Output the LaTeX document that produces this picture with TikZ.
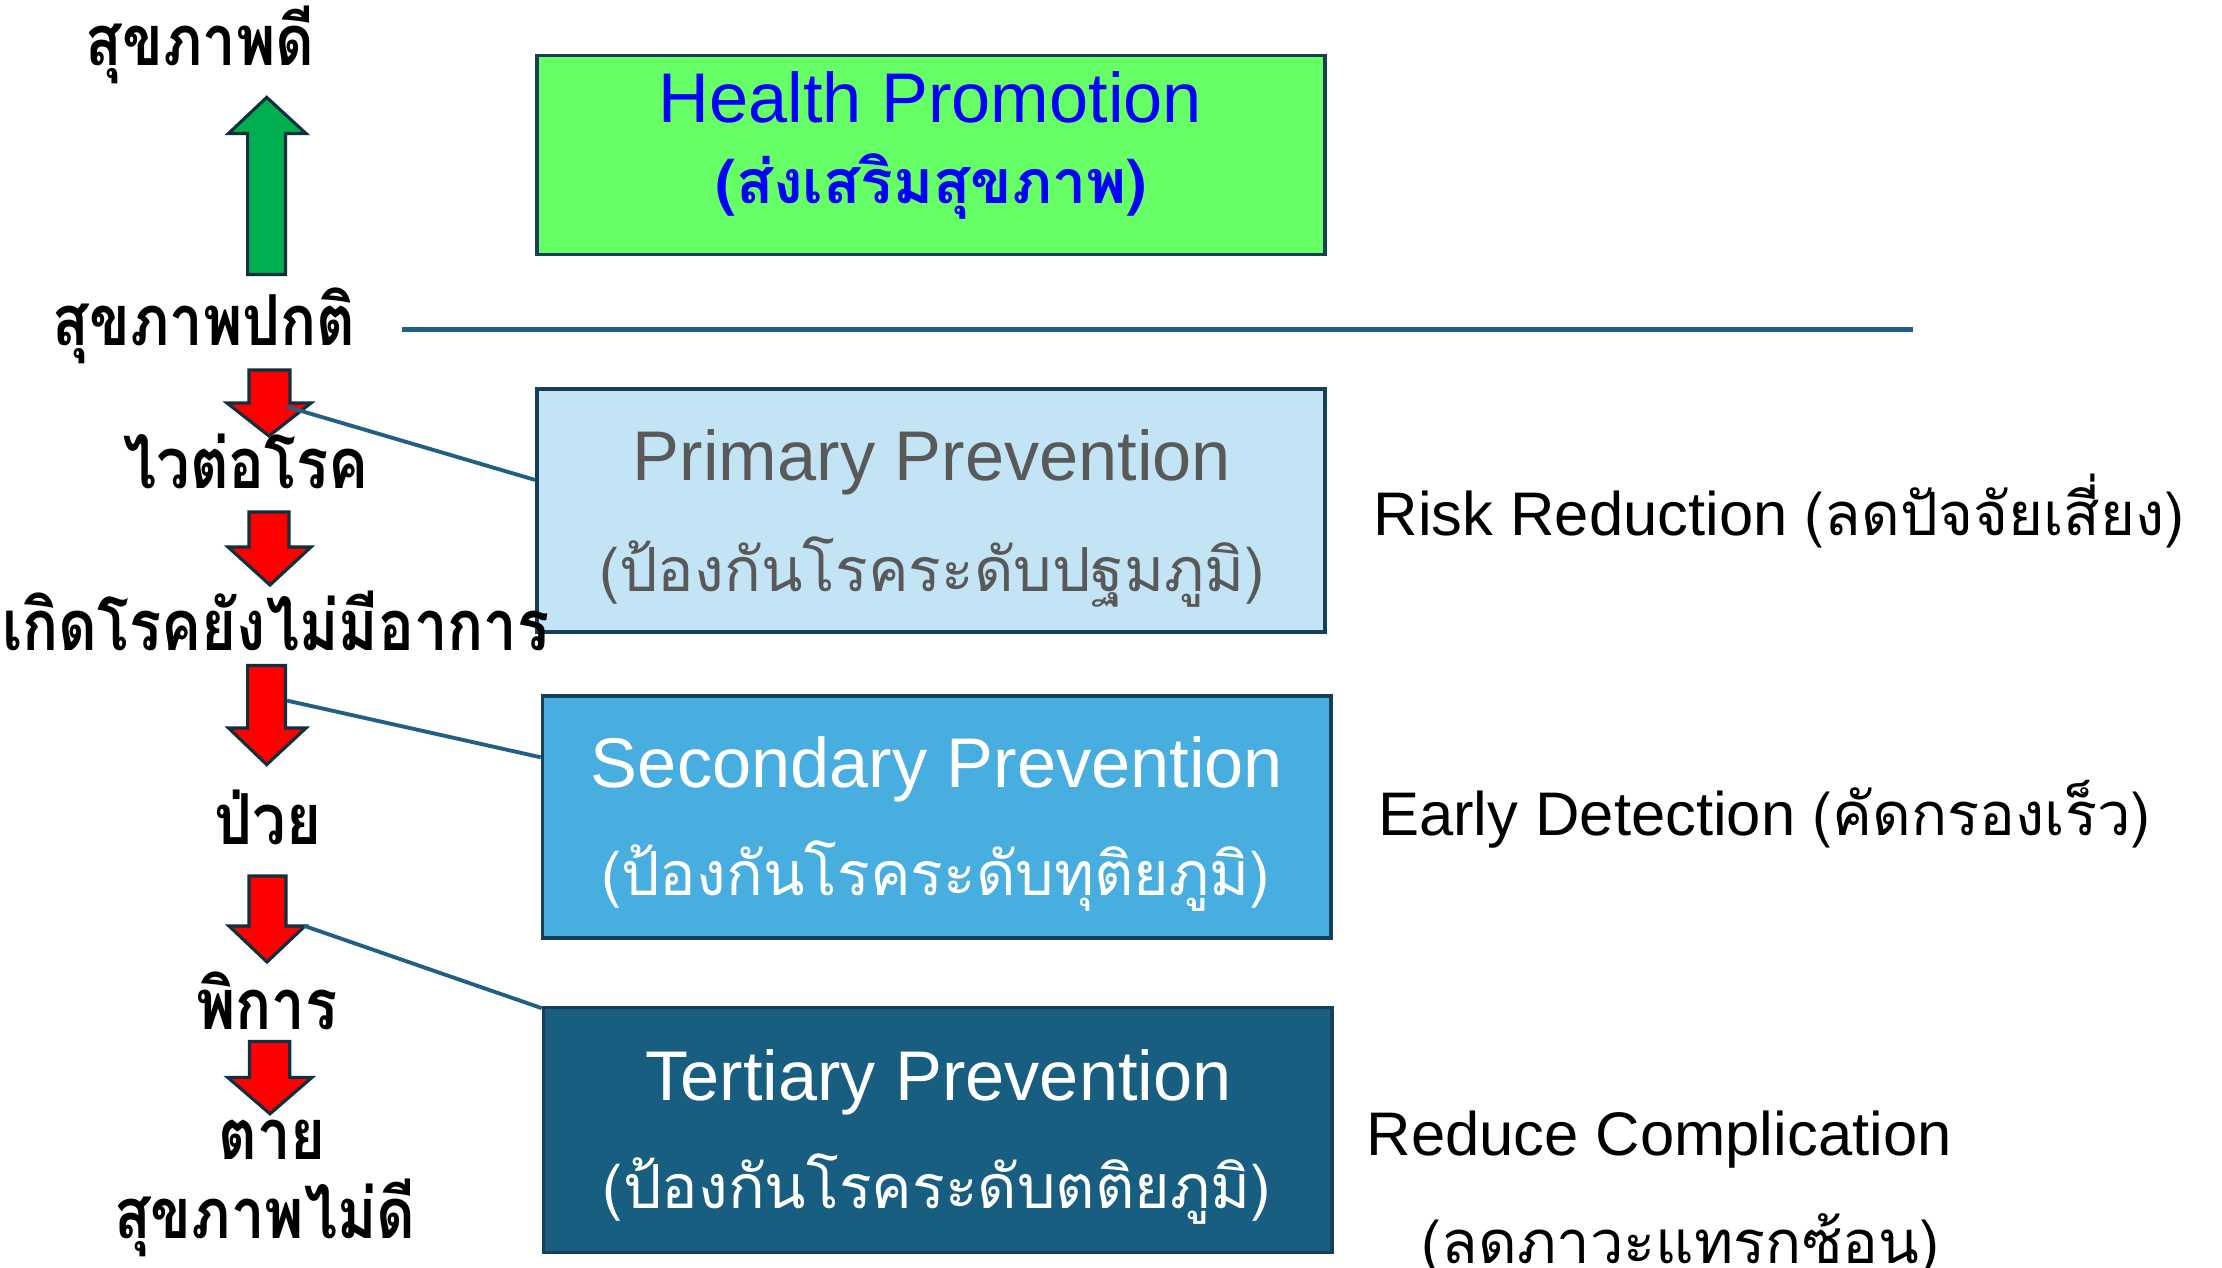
\documentclass[tikz,border=0pt]{standalone}
\usepackage{fontspec}
\setmainfont{Liberation Sans}
\newfontfamily\thaifont[Script=Thai]{Loma}
\newfontfamily\thainarrow[Script=Thai,FakeStretch=0.85]{Loma}
\newcommand\rthaifont{\thaifont\fontsize{17pt}{20pt}\selectfont}
\usetikzlibrary{calc}
\definecolor{bordc}{HTML}{16405A}
\definecolor{linec}{HTML}{1F6084}
\definecolor{greenbox}{HTML}{66FF66}
\definecolor{primfill}{HTML}{C3E4F4}
\definecolor{secfill}{HTML}{47AEDF}
\definecolor{tertfill}{HTML}{185E80}
\definecolor{grayt}{HTML}{595959}
\definecolor{arrowgreen}{HTML}{00B050}
\definecolor{arrowborder}{HTML}{10303F}
\begin{document}
\begin{tikzpicture}[x=0.01cm,y=-0.01cm,
  box/.style={draw=bordc,line width=1pt,minimum width=7.88cm,inner sep=0pt},
  conn/.style={draw=linec,line width=1.1pt},
  redarrow/.style={fill=red,draw=arrowborder,line width=0.9pt,line join=miter},
  greenarrow/.style={fill=arrowgreen,draw=arrowborder,line width=0.9pt,line join=miter},
  lefttxt/.style={anchor=base,inner sep=0pt,font=\thainarrow\bfseries\fontsize{20pt}{24pt}\selectfont},
  engtxt/.style={anchor=base,inner sep=0pt,font=\fontsize{20pt}{24pt}\selectfont},
  thaibox/.style={anchor=base,inner sep=0pt,font=\thaifont\fontsize{17.3pt}{21pt}\selectfont},
  righttxt/.style={anchor=base west,inner sep=0pt,font=\fontsize{17.5pt}{21pt}\selectfont}
  ]
\useasboundingbox (0,0) rectangle (2222,1268);

% boxes
\node[box,fill=greenbox,minimum height=1.99cm] (hp) at (931,155) {};
\node[box,fill=primfill,minimum height=2.43cm] (prim) at (931,510.5) {};
\node[box,fill=secfill,minimum height=2.42cm] (sec) at (936.7,817) {};
\node[box,fill=tertfill,minimum height=2.45cm] (tert) at (937.7,1130) {};

% box texts
\node[engtxt,text=blue] (hpen) at (930.5,123) {Health Promotion};
\node[thaibox,text=blue,font=\thaifont\bfseries\fontsize{17.3pt}{21pt}\selectfont] (hpth) at (931.5,204) {(ส่งเสริมสุขภาพ)};
\node[engtxt,text=grayt] (primen) at (932,481) {Primary Prevention};
\node[thaibox,text=grayt] (primth) at (932,591.5) {(ป้องกันโรคระดับปฐมภูมิ)};
\node[engtxt,text=white] (secen) at (937,788) {Secondary Prevention};
\node[thaibox,text=white] (secth) at (935.5,896) {(ป้องกันโรคระดับทุติยภูมิ)};
\node[engtxt,text=white] (terten) at (938.5,1100.5) {Tertiary Prevention};
\node[thaibox,text=white] (tertth) at (937,1208.7) {(ป้องกันโรคระดับตติยภูมิ)};

% right texts
\node[righttxt] (risk) at (1373,535.7) {Risk Reduction {\rthaifont (ลดปัจจัยเสี่ยง)}};
\node[righttxt] (early) at (1377.5,835.6) {Early Detection {\rthaifont (คัดกรองเร็ว)}};
\node[righttxt] (reduce) at (1366,1155) {Reduce Complication};
\node[righttxt,font=\rthaifont] (reduceth) at (1421,1263) {(ลดภาวะแทรกซ้อน)};

% left labels
\node[lefttxt] (good) at (200,66) {สุขภาพดี};
\node[lefttxt] (normal) at (204,346) {สุขภาพปกติ};
\node[lefttxt] (risky) at (246,489) {ไวต่อโรค};
\node[lefttxt] (nosym) at (276,651) {เกิดโรคยังไม่มีอาการ};
\node[lefttxt] (sick) at (268,845) {ป่วย};
\node[lefttxt] (disab) at (267,1029) {พิการ};
\node[lefttxt] (dead) at (272,1159) {ตาย};
\node[lefttxt] (bad) at (265,1238) {สุขภาพไม่ดี};

% arrows
\draw[greenarrow] (247.6,274.5) -- (247.6,133.5) -- (228.5,133.5) -- (266.7,97.4) -- (306,133.5) -- (285.5,133.5) -- (285.5,274.5) -- cycle;
\draw[redarrow] (249,370) -- (290,370) -- (290,403) -- (311,403) -- (269,436) -- (227,403) -- (249,403) -- cycle;
\draw[redarrow] (249,512) -- (289,512) -- (289,547) -- (311,547) -- (270,585) -- (228,547) -- (249,547) -- cycle;
\draw[redarrow] (247.6,665.5) -- (285.5,665.5) -- (285.5,728) -- (306,728) -- (266.7,764.6) -- (228.5,728) -- (247.6,728) -- cycle;
\draw[redarrow] (249,876) -- (286,876) -- (286,926) -- (305,926) -- (267,962) -- (229,926) -- (249,926) -- cycle;
\draw[redarrow] (249.5,1041.5) -- (289.7,1041.5) -- (289.7,1077.4) -- (312,1077.4) -- (270,1113.8) -- (227.7,1077.4) -- (249.5,1077.4) -- cycle;

% connector points
\coordinate (a1) at (286.7,406.7);
\coordinate (a2) at (287,700.6);
\coordinate (a3) at (304,925.8);
\coordinate (hl) at (402,329.5);
\coordinate (hr) at (1912.6,329.5);

\draw[conn,line width=1.35pt] (hl) -- (hr);
\draw[conn] (a1) -- ($(prim.north west)!0.376!(prim.south west)$);
\draw[conn] (a2) -- ($(sec.north west)!0.257!(sec.south west)$);
\draw[conn] (a3) -- ($(tert.north west)!0.01!(tert.south west)$);
\end{tikzpicture}
\end{document}
